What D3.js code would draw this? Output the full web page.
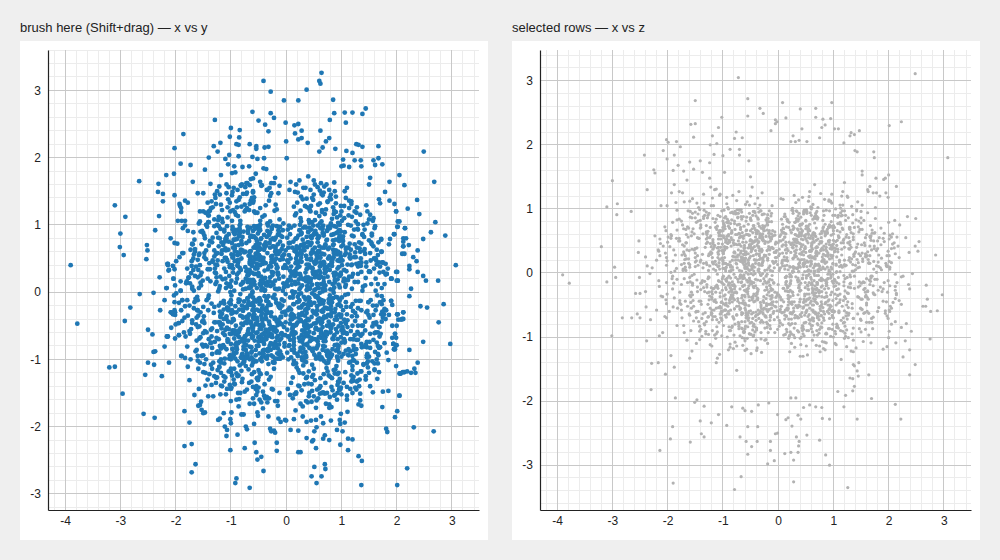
<!DOCTYPE html>
<html><head><meta charset="utf-8">
<script src="https://cdn.jsdelivr.net/npm/d3@7"></script>
<style>
html,body{margin:0;padding:0;background:#efefef;}
svg{display:block;font-family:"Liberation Sans",Arial,Helvetica,sans-serif;}
</style></head><body>
<svg id="chart" width="1000" height="560"></svg>
<script>
// ---- axis / tick configuration ----
const xTicks=[-4,-3,-2,-1,0,1,2,3];
const yTicks=[-3,-2,-1,0,1,2,3];
const zTicks=[-3,-2,-1,0,1,2,3];
const xDomain=[-4.31,3.49];
const yDomain=[-3.24,3.6];
const zDomain=[-3.7,3.48];
const titles=["brush here (Shift+drag) \u2014 x vs y","selected rows \u2014 x vs z"];

// ---- data rows [x, y, z] ----
const extremeRows=[
[-3.9,.4,-.03],[-3.78,-.47,-.16],[-3.2,-1.12,.41],[-3.1,-1.11,1.03],[-3.1,1.29,-.14],[-3.01,.67,-.98],[-3,.87,1.44],[-2.96,-1.51,.09],[-2.94,.55,-.07],[-2.92,-.43,.91],
[-2.91,1.12,1.08],[-2.82,-.23,-.7],[-2.66,1.65,.96],[-2.65,-.03,-.7],[-2.58,-1.81,-.32],[-2.55,-1.23,-.64],[-2.53,.49,.32],[-2.52,.7,.5],[-2.51,.62,-.07],[-2.5,-.56,-.32],
[-2.5,-1.05,-.7],[-2.42,-.63,1.84],[-2.4,-.01,.25],[-2.4,-.89,-.29],[-2.39,-1.08,-.53],[-2.38,-1.87,-1.06],[-2.37,-.88,1.3],[-2.37,.92,.11],[-2.32,1.49,-.01],[-2.31,1.61,-.73],
[-2.3,1.13,-1.82],[-2.29,.22,-1.41],[-2.28,-.27,.08],[-2.25,-1.25,1.61],[-2.23,1.46,.58],[-2.23,1.35,1.56],[-2.2,-.12,-.58],[-2.2,-.81,.2],
[2.2,1.24,.75],[2.22,.7,-2.28],[2.23,.39,2.36],[2.23,.34,-.06],[2.23,-.06,-.49],[2.23,-.86,-.85],[2.26,.05,-.05],[2.26,-1.2,-1.31],[2.3,.52,-1.06],[2.31,-2.01,.55],
[2.32,-1.14,-.79],[2.34,-1.2,.88],[2.36,.46,-.18],[2.37,1.37,.32],[2.38,.62,-.25],[2.38,.3,-1.2],[2.38,-1.05,-1.59],[2.41,1.16,-.91],[2.43,-.21,-.01],[2.48,.79,.42],
[2.48,.24,3.11],[2.48,-.74,-1.43],[2.49,2.09,.85],[2.53,.17,.34],[2.55,-.23,.49],[2.62,.89,-.52],[2.67,-2.07,-.52],[2.68,1.64,-.19],[2.7,1.04,-.41],[2.75,.17,-1.03],
[2.76,-.45,-.6],[2.85,-.18,.28],[2.88,.84,-.59],[2.97,-.77,-.34],[3.07,.4,1.8]
];
const leftEdgeRows=[
[-.41,3.14,.35],[-.28,2.98,-.62],[-.04,2.85,.18],[-.61,2.68,-.27],[-.28,2.66,.74],[-.22,2.59,-.05],[-.5,2.55,.52],[-.01,2.52,-.88],[-1.29,2.56,.13],[-.38,2.49,-.41],
[-1,2.44,.66],[-.84,2.41,-.19],[-.32,2.39,.97],[-1.86,2.35,.28],[-1.02,2.31,-.72],[-.85,2.3,.04],[0,2.24,.47],[-1.19,2.22,-.33],[-.9,2.2,.81],[-.86,2.19,-.58],
[-.66,2.2,.22],[-1.31,2.17,-.95],[-.54,2.17,.39],[-.54,2.13,-.14],[-.39,2.15,.61],[-.32,2.16,-.77],[-2.02,2.14,.12],[-1.24,2.09,.55],[-1.03,2.04,-.46],[-.86,2.02,.09],
[-.61,2.01,-1.02],[-1.4,2,.71],[-1.1,1.98,-.21],[-.52,1.98,.93],[-.4,1.99,-.36],[.01,1.99,.27],[-1.05,1.9,-.64],[-1.91,1.91,-.25],[-1.73,1.89,.44],[-1.47,1.82,-.11],
[-2.17,1.74,.36],[-2.03,1.76,-.42],[-1.69,1.64,.06],[-2.02,1.44,-.7],[-1.93,1.31,.58],[-1.92,1.28,-.09],[-1.9,1.25,.19],[-1.9,1.19,-.53],[-1.83,1.36,.83],[-1.78,1.33,-.3],
[-1.96,1.06,.41],[-1.89,1.06,-.16],[-1.83,1.06,.67],[-1.83,.99,-.82],[-1.87,.95,.03],[-1.78,.91,.5],[-2.09,.8,-.37],[-2.02,.73,.24],[-1.97,.72,-.6],[-1.7,.71,.15],
[-2.15,.42,-.21],[-2.13,.32,.46],[-2.16,.06,-.12],[-2.05,.39,.72],[-2.02,.34,-.48],[-2.04,.2,.31],[-1.6,1.47,-.66],[-1.5,1.47,.38],[-1.56,1.2,-.04],[-1.56,1.05,.86],
[-1.4,1.2,-.44],[-1.41,1.04,.17],[-1.42,1.33,-.91],[-1.29,1.45,.6],[-1.21,1.57,-.23],[-1.37,1.61,.29],[-1.04,1.56,-.55],[-.98,1.77,.76],[-.92,1.78,-.08],[-1.18,1.74,.48],
[-.94,1.87,-.69],[-.79,1.86,.33],[-.67,1.87,-.15],[-.74,1.56,.99],[-.66,1.59,-.39],[-.6,1.69,.07],[-.55,1.76,-.84],[-.41,1.84,.56],[-.36,1.83,-.26],
[.64,3.26,-.31],[.6,3.14,.42],[.62,3.1,-.7],[.37,3.01,.14],[.22,2.85,-.47],[.85,2.86,.63],[.87,2.66,-.12],[1.06,2.67,.25],[1.2,2.67,-.59],[1.44,2.73,.08],
[1.38,2.65,.71],[1.08,2.52,-.35],[.79,2.56,.49],[.62,2.4,-.92],[.15,2.48,.2],[.22,2.5,-.17],[.16,2.36,.84],[.22,2.27,-.63],[.28,2.4,.02],[.28,2.29,.53],
[.39,2.22,-.28],[.78,2.29,.37],[.72,2.24,-.81],[.66,2.15,.11],[.6,2.09,-.44],[.89,2.13,.68],[1.09,2.1,-.07],[1.2,2.07,.4],[1.27,2.2,-.66],[1.31,2.19,.17],
[1.38,2.16,-.24],[1.67,2.17,.55],[1.24,1.96,-.5],[1.35,1.96,.02],[1.36,1.87,-.86],[1.58,1.96,.3],[1.67,1.99,-.13],[1.74,1.9,.62],[1.61,1.89,-.38],[1.03,1.97,.9],
[1.04,1.88,-.2],[1,1.87,.45],[1.14,1.86,-.74],[2.05,1.74,.16],[2.14,1.59,-.34],[1.87,1.64,.23],[1.52,1.7,-.57],[1.5,1.6,.78],[1.79,1.49,-.1],[1.68,1.38,.51],
[1.7,1.32,-.77],[1.87,1.36,.05],[1.96,1.31,-.45],[1.99,1.2,.34],[2.15,.95,-.15],[2.02,1.05,.59],[2.02,.97,-.6],[1.96,.86,.12],[1.88,.79,-.29],[1.86,.71,.7],
[2.12,.8,-.4],[2.12,.75,.3],[2.12,.68,-.02],[2.1,.57,.47],[1.99,.3,-.71],[2.02,.17,.09],[1.9,.2,-.25],[1.75,.44,.63],[1.82,.27,-.54],[1.63,.47,.21],[1.68,.44,-.08],
[-2.14,-.66,.27],[-2.12,-1.05,-.36],[-1.84,-1.77,.54],[-1.75,-1.94,-.18],[-1.84,-2.29,.07],[-1.71,-2.26,.69],[-1.64,-2.56,-.52],[-1.71,-2.68,.33],[-1.01,-2.35,-.09],[-.9,-2.77,.58],
[-.92,-2.84,-.64],[-.66,-2.91,.2],[-.75,-2.32,-.31],[-.57,-2.24,.87],[-.54,-2.38,-.02],[-.52,-2.49,.44],[-.45,-2.45,-.83],[-.41,-2.66,.15],[-.17,-2.24,-.49],[-.17,-2.36,.62],
[-.88,-2.12,-.16],[-1.08,-2.14,.4],[-1.11,-2,-.73],[-1.07,-2.05,.11],[-.71,-2.04,.76],[-.73,-2,-.4],[-.58,-1.96,.29],[-.52,-1.79,-.95],[-.51,-1.84,.5],[-.32,-1.85,-.12],
[-.29,-2.03,.35],[-.27,-2.07,-.57],[-.22,-2.06,.83],[-.2,-2.09,-.26],[-.14,-1.88,.04],[-.1,-1.93,.66],[-.02,-1.9,-.35],[-1,-1.95,.18],[-1.01,-1.89,-.6],[-.81,-1.82,.93],
[-.77,-1.82,-.07],[-1.23,-1.9,.46],[-1.2,-1.88,-.29],[-1.13,-1.8,.71],[-.99,-1.79,-.48],[-1.5,-1.8,.1],[-1.53,-1.75,-.75],[-1.47,-1.79,.39],[-1.59,-1.69,-.14],[-1.56,-1.68,.64],
[-1.54,-1.63,-.43],[-1.66,-1.53,.22],[-1.58,-1.44,-.9],[-1.46,-1.39,.55],[-1.35,-1.38,-.23],[-1.41,-1.55,.82],[-1.32,-1.55,-.62],[-1.75,-1.31,.13],[-1.78,-1.11,-.47],[-1.89,-.95,.36],
[-1.83,-.98,-.1],[-1.73,-1,.75],[-1.82,-.66,-.55],[-1.94,-.64,.01],[-2,-.48,.48],[-2.01,-.69,-.33],[-1.94,-.46,.6],[-2.02,-.27,-.15],[-2.08,-.3,.42],[-2.05,-.33,-.68],
[-2.01,-.34,.19],[-1.88,-.12,-.39],[-1.99,-.02,.56],[-1.91,.02,-.05],[-1.7,-.42,.3],[-1.48,-.46,-.7],[-1.17,-.54,.14],[-1.14,-.79,-.42],[-1.05,-.72,.88],[-1.11,-.99,-.19],
[-.95,-.94,.52],[-.84,-1.09,-.85],
[2.19,-1.18,.24],[2.14,-1.19,-.32],[2.07,-1.21,.61],[1.99,-1.1,-.12],[2.05,-1.54,.38],[2.01,-1.77,-.58],[1.97,-1.86,.1],[1.81,-2.03,-.27],[1.83,-2.08,.55],[2.19,-2.62,-.43],
[2.01,-2.87,.18],[1.36,-2.87,-.71],[1.37,-2.51,.29],[1.31,-2.44,-.06],[1.12,-2.18,.64],[1.2,-2.19,-.37],[1.12,-2.35,.02],[.98,-2.27,-.88],[.7,-2.56,.41],[.71,-2.63,-.15],
[.51,-2.6,.73],[.46,-2.74,-.46],[.55,-2.84,.26],[.64,-2.74,-.61],[.22,-2.38,.09],[.26,-2.38,-.3],[.37,-2.17,.57],[.47,-2.22,-.78],[.49,-2.2,.16],[.54,-2.32,-.2],
[.67,-2.18,.85],[.78,-2.2,-.52],[.7,-2.13,.33],[1.02,-2.07,-.1],[.92,-2.05,.48],[.98,-1.96,-.66],[.81,-1.91,.07],[.67,-1.95,-.36],[.55,-2.01,.68],[.51,-2.07,-.04],
[.08,-2.05,.31],[.22,-2.06,-.92],[.14,-1.89,.44],[0,-1.91,-.18],[.3,-1.85,.79],[.37,-1.93,-.5],[.45,-1.91,.13],[.54,-1.9,-.25],[.63,-1.85,.6],[.99,-1.81,-.43],
[1.11,-1.78,.2],[1.06,-1.94,-.8],[.97,-1.9,.37],[1.31,-1.67,-.16],[1.36,-1.69,.52],[1.34,-1.61,-.55],[1.34,-1.51,.03],[1.29,-1.32,.69],[1.21,-1.32,-.28],[1.74,-1.71,.42],
[1.75,-1.48,-.34],[1.85,-1.47,.08],[1.57,-1.49,-.62],[1.52,-1.4,.31],[1.65,-1.29,-.11],[1.68,-1.19,.58],[1.6,-1.06,-.47],[1.66,-1.06,.15],[1.85,-1.01,-.22],[1.67,-.94,.74],
[1.68,-.83,-.05],[1.78,-.76,.35],[1.94,-.77,-.63],[1.96,-.85,.11],[1.98,-.79,-.3],[1.92,-.68,.49],[1.92,-.5,-.15],[1.97,-.62,.27],[2.03,-.41,-.52],[2.02,-.33,.06],
[2.1,-.4,.39],[2.12,-.3,-.21],[1.92,-.19,.62],[1.9,-.13,-.44],[1.81,-.27,.17],[1.72,-.33,-.69],[1.86,-.34,.44],[1.6,-.61,-.09],[1.46,-.74,.81],[1.46,-.82,-.38],
[1.37,-.82,.26],[1.5,-.96,-.74],[1.4,-1.07,.12],[1.48,-1.12,-.2],[1.18,-1.33,.47],[.94,-1.33,-.53],[.96,-1.44,.09],[.87,-1.54,-.31],[.79,-1.56,.65],[.78,-1.67,-.12],
[.82,-1.71,.36],[.93,-1.5,-.87],[.61,-1.51,.24],[.67,-1.49,-.41],[1.1,-1.54,.56],[1.1,-1.41,-.17],[1.32,-1.4,.4]
];
const rightEdgeRows=[
[-.72,.31,3.05],[-1.5,-.22,2.69],[-.55,.67,2.72],[-.55,-.48,2.45],[-1.02,.12,2.43],[-.33,-.85,2.57],[-.27,.44,2.49],[-1.58,.06,2.32],[-1.5,-.61,2.33],[-1.08,.83,2.27],
[-1.53,.29,2.12],[-1.19,-.37,2.14],[-1.11,.51,2.02],[-.76,-.14,2.2],[-.65,.96,2.11],[-.79,-.72,2.1],[-2.02,-.15,2.08],[-1.99,.46,2.04],[-1.84,-.38,2.05],[-1.77,.21,1.97],
[-2.08,-.53,1.91],[-2.01,.1,1.78],[-1.88,.58,1.84],[-2.16,-.66,.34],[-2.14,.4,.53],[-2.03,-.05,.66],[-2.12,.33,1.05],[-2.01,-.3,1.05],
[-1.71,.39,1.59],[-1.9,-.27,1.6],[-1.81,.13,1.68],[-1.6,-.52,1.73],[-1.53,.71,1.62],[-1.41,-.09,1.75],[-1.24,.47,1.72],[-1.37,-.76,1.57],[-1.65,.24,1.45],[-1.88,-.43,1.38],
[-1.93,.52,1.25],[-1.79,-.12,1.27],[-1.73,.63,1.25],[-1.85,-.6,1.1],[-1.7,.05,1.11],[-1.59,-.35,.96],[-1.5,.88,.86],[-1.79,-.81,.84],[-1.91,.16,.79],[-1.83,-.21,.98],
[-1.67,.56,.68],[-1.57,-.69,.58],[-1.79,.35,.54],[-1.94,-.16,.54],[-1.67,.02,.47],[-1.23,-.45,2],[-1.16,.62,1.85],[-1,-.18,1.83],[-.87,.93,1.93],[-.97,-.57,1.57],
[-.7,.15,1.93],[-.7,-.95,1.84],[-.53,.36,1.75],
[-2.15,-.66,-.98],[-2.09,-.3,-.93],[-2.17,.06,-1.4],[-2.04,.2,-1.58],[-2.14,.42,-2.77],[-1.91,.02,-2.4],[-1.95,-.46,-2.59],[-1.59,.33,-2.64],[-1.9,-.95,-3.28],[-1.86,.58,-1.95],
[-1.88,-.12,-1.47],[-1.94,-.64,-1.29],[-1.51,.17,-2.02],[-1.47,-.58,-1.98],[-1.34,.74,-2.08],[-1.41,-.27,-2.31],[-1.39,.43,-2.51],[-1.34,-.83,-2.56],[-1.21,.05,-2.34],[-1.08,-.4,-2.21],
[-.93,.61,-2.38],[-.84,-.12,-2.09],[-.67,.28,-3.18],[-.79,-.7,-3.38],[-.69,.92,-2.56],[-.58,-.33,-2.63],[-.55,.49,-2.83],[-.48,-.91,-2.71],[-.38,.14,-2.63],[-.37,-.56,-2.4],
[-.55,.8,-2.4],[-.14,-.2,-2.63],[-.14,.57,-2.77],[-.19,-.74,-2.98],[-.05,.36,-2.51],[-.01,-.45,-2.21],[-.64,.07,-2.11],[-.6,-1.05,-2.15],[-.48,.66,-2.16],[-.36,-.13,-2.06],
[-.17,.98,-2.03],
[.28,-.34,-3.26],[1.26,.52,-3.35],[.93,-.08,-3],[.86,.71,-2.84],[.12,-.62,-2.82],[.23,.19,-2.8],[.36,-.97,-2.8],[.28,.45,-2.92],[.75,-.25,-2.61],[.52,.88,-2.53],
[.33,-.5,-2.56],[.37,.03,-2.7],[.38,-.79,-2.63],[-.01,.62,-2.5],[-.07,-.3,-2.93],[.25,.27,-2.39],[.14,-1.02,-2.29],[.18,.8,-2.26],[.41,-.15,-2.28],[.36,.54,-2.22],
[.8,-.6,-2.27],[.93,.35,-2.28],[.79,-.98,-2.1],[.68,.11,-2.09],[.57,-.41,-2.06],[.46,.93,-2.1],[.32,-.07,-1.95],[.23,.66,-1.95],[1.43,-.44,-2.28],[1.19,.23,-2.09],
[1.22,-.86,-1.91],[1.08,.58,-1.85],[1.35,-.13,-1.84],[1.38,.85,-1.77],[1.35,-.65,-1.65],[1.3,.38,-1.64],[1.45,-.3,-1.61],[1.43,.1,-1.53],[1.69,-.52,-1.96],[1.64,.63,-1.59],
[1.46,-.97,-1.4],[1.36,.44,-1.43],[2.12,-.4,-2.05],[2.13,-1.19,-1.09],[2.05,-1.21,-.8],[2.01,-.33,-.91],[1.97,-.85,-1.15],[1.9,-.13,-1.19],[2,-.79,-1.01],[2.12,-.3,-.76],
[2.08,-.41,-.46],[2.05,-1.54,-.55],[1.94,-.77,-.59],[1.97,-.62,-.67],[2.12,.68,-.27],[2.02,.17,-.2],
[2.01,.3,2.3],[.08,-.41,2.66],[.4,.22,2.56],[.68,-.73,2.57],[.97,.46,2.66],[.68,.05,2.43],[.81,-.36,2.4],[.95,.9,2.41],[.14,-.18,2.42],[-.05,.55,2.39],
[-.02,-.64,2.36],[-.05,.13,2.33],[-.13,-.92,2.22],[.43,.37,2.25],[.79,-.1,2.27],[.85,.63,2.31],[1.02,-.55,2.25],[1.09,.18,2.25],[1.47,-.28,2.22],[1.32,.74,2.19],
[1.3,-.71,2.14],[1.38,.02,2.16],[1.19,.41,2.03],[.75,-.87,2.11],[.27,.7,2.14],[.23,-.23,2.05],[.31,.96,2.05],[.38,-.49,2.07],[.52,.25,2.05],[1.39,-.5,1.91],
[1.43,.57,1.89],[1.73,-.06,1.89],[1.74,.44,1.8],[1.52,-.83,1.59],[1.52,.3,1.53],[1.77,-.33,1.48],[1.91,.2,1.46],[1.94,-.77,1.48],[2,-.5,1.53],[2.14,.57,1.35],
[1.95,.86,1.25],[1.99,-.68,1.18],[1.66,.12,1.35],[1.63,-.45,1.27],[1.72,.79,1.25],[1.78,-.27,1.25],[1.84,.35,1.2],[2.11,-1.19,.82],[2,.17,.79],[2.05,1.05,.56],
[2.15,.95,.56],[1.9,.2,.54],[2.01,-.33,.53],[2.07,-1.21,.45],[2.17,.8,.42],[2.01,.97,.27],[1.99,1.2,.1],[1.95,-.85,.15],[1.8,-.4,.38],[1.82,.27,.28],
[1.66,-.6,.27],[1.59,.5,.25],[1.49,-.15,.27],[1.82,-.9,.1],[1.73,.6,.06],[1.64,-.2,.15]
];
const coreInner=[
[.12,-.34,.56],[-.45,.08,-.21],[.67,.41,.03],[-.09,-.62,.38],[.31,.19,-.66],[-.58,-.27,.14],[.05,.55,-.42],[-.7,.33,.61],[.44,-.15,-.09],[-.23,.68,.27],
[.18,-.49,-.55],[-.36,-.7,.47],[.59,.06,.19],[-.14,.26,-.69],[.69,-.38,.34],[-.51,.61,-.12],[.27,-.02,.68],[-.02,-.29,-.31],[.38,.67,.11],[-.65,-.05,-.47],
[.09,.38,.7],[-.31,-.44,-.04],[.52,.22,-.58],[-.19,-.11,.23],[.64,-.6,.49],[-.47,.47,.06],[.22,.13,-.27],[-.6,-.58,.39],[.35,-.26,-.7],[-.08,.64,.15],
[.48,.35,-.36],[-.39,.02,.62],[.14,-.69,-.18],[-.68,.18,-.03],[.61,.52,.44],[-.27,-.36,-.64],[.03,.09,.3],[-.55,.7,-.25],[.4,-.53,.09],[-.12,-.17,.53],
[.7,.28,-.15],[-.43,-.63,.21],[.25,.46,-.49],[-.16,.04,.66],[.56,-.21,-.02],[-.62,.39,.35],[.11,-.4,-.61],[-.34,.58,.01],[.47,.11,.58],[-.04,-.52,-.38],
[.33,.62,.26],[-.69,-.19,-.56],[.16,.31,.12],[-.25,-.67,.66],[.66,.01,-.44],[-.5,.24,-.17],[.07,-.08,.42],[-.41,.51,-.68],[.54,-.46,.17],[-.2,.17,.05],
[.29,-.57,.7],[-.57,-.12,-.29],[.62,.44,.37],[-.06,.69,-.52],[.37,-.31,.02],[-.64,.12,.48],[.2,.27,-.2],[-.3,-.48,.33],[.5,.59,-.62],[-.11,-.24,-.11],
[.43,.07,.64],[-.48,-.55,.1],[.01,.36,-.34],[-.67,-.33,.25],[.58,-.1,-.47],[-.22,.45,.57],[.13,-.64,-.07],[-.38,.21,.43],[.69,.66,-.26],[-.01,-.03,-.69],
[.32,-.18,.31],[-.54,.56,.16],[.19,-.47,-.4],[-.28,.09,.69],[.6,.32,-.1],[-.44,-.7,-.33],[.08,.5,.2],[-.59,-.21,-.58],[.45,.2,.52],[-.17,-.58,.08],
[.24,.04,-.63],[-.63,.47,.29],[.41,-.66,-.16],[-.05,.23,.45],[.65,-.29,-.35],[-.35,-.09,.06],[.15,.61,-.05],[-.52,-.43,.59],[.36,.16,-.53],[-.1,-.37,.18],
[.55,.49,.04],[-.26,.3,-.46],[.02,-.56,.5],[-.61,-.01,.22],[.42,.37,-.68],[-.15,-.65,.36],[.68,-.13,.13],[-.46,.64,-.39],[.23,-.33,-.12],[-.33,.15,.61],
[.1,.28,-.24],[-.7,-.39,.45],[.51,-.04,-.6],[-.07,.53,.32],[.34,-.5,.07],[-.53,.06,-.37],[.63,.23,.55],[-.18,-.16,-.14],[.46,-.68,.28],[-.42,.42,-.01],
[.06,-.23,.67],[-.58,.27,-.5],[.28,.57,.09],[-.24,-.52,-.27],[.71,.1,.4],[-.37,-.27,-.65],[.17,.43,.19],[-.66,.59,.03],[.39,-.41,.46],[-.13,.05,-.41],
[.53,-.55,-.19],[-.49,-.14,.38],[.04,.66,-.57],[-.3,-.62,.12],[.62,.39,-.31],[-.56,.35,.6],[.21,-.07,-.02],[-.03,.12,.35],[.48,-.28,-.66],[-.64,-.46,.16],
[.3,.2,.5],[-.21,-.4,-.22],[.57,.58,.24],[-.45,.03,-.62],[.14,-.35,.43],[-.69,.25,-.08],[.44,.48,.66],[-.09,-.69,-.45],[.26,.07,.01],[-.39,.66,.3],
[.67,-.17,.14],[-.52,-.6,-.43],[.09,.17,.63],[-.27,.38,-.17],[.5,-.61,.32],[-.6,-.08,.09],[.35,.29,-.54],[-.12,-.45,.56],[.59,.53,-.07],[-.43,-.2,.41],
[.18,.6,-.29],[-.34,-.3,.21],[.64,-.44,-.5],[-.08,-.11,-.15],[.41,.14,.69],[-.65,.49,-.35],[.12,-.51,.11],[-.29,.22,.52],[.53,.04,-.41],[-.5,-.67,.26],
[.04,.44,.08],[-.57,.11,.67],[.37,-.25,-.23],[-.19,.63,-.6],[.7,.34,.27],[-.41,-.5,-.1],[.24,-.12,.44],[-.62,.29,-.48],[.46,-.37,.15],[-.06,.02,-.3],
[.31,.68,.53],[-.36,-.24,.04],[.57,-.07,.34],[-.23,-.57,-.67],[.15,.25,-.13],[-.54,.67,.2],[.66,-.52,-.25],[-.16,.37,.62],[.39,.18,-.45],[-.68,-.15,.31],
[.21,-.45,-.06],[-.44,.13,.48],[.6,.61,-.18],[-.01,-.34,.13],[.34,-.66,.58],[-.59,-.35,-.28],[.11,.01,.25],[-.25,.54,-.55],[.49,.27,.38],[-.32,-.06,-.03],
[.68,.15,-.64],[-.47,.4,.1],[.03,-.27,-.37],[-.63,-.63,.54],[.27,.51,.23],[-.14,-.41,-.49],[.55,-.33,.05],[-.38,.03,.66],[.16,-.6,-.2],[-.55,.57,-.14],
[.42,-.09,.29],[-.11,.48,-.38],[.63,-.56,.61],[-.28,-.19,.17],[.07,.32,-.62],[-.67,.07,.42],[.36,-.43,-.08],[-.2,.6,.35],[.52,.42,-.33],[-.05,-.64,.24],
[.26,.24,.47],[-.61,-.52,-.19],[.45,-.19,-.03],[-.33,.34,.55],[.13,-.03,-.58],[-.49,-.28,.33],[.69,.56,.12],[-.1,-.47,-.26],[.38,.09,.6],[-.42,.19,-.44],
[.17,-.61,.19],[-.66,.6,-.06],[.54,.26,-.5],[-.24,-.08,.27],[.02,.47,.04],[-.53,-.38,-.6],[.61,-.01,.46],[-.15,.29,-.1],[.33,-.5,.36],[-.37,-.66,-.39],
[.47,.36,.21],[-.04,-.13,-.53],[.23,.65,.45],[-.58,.16,.01],[.65,-.41,-.12],[-.3,-.55,.59],[.1,.11,-.45],[-.46,.52,.13],[.4,-.2,-.65],[-.18,.41,.37]
];
const coreMid=[
[.92,-.41,1.12],[-1.05,.63,-.37],[.18,1.17,.8],[-.76,-1.02,.25],[1.21,.27,-.94],[-.33,-.88,1.06],[.64,.95,-.71],[-1.18,-.16,.52],[.49,-1.23,-.15],[-.87,.44,-1.11],
[1.03,.76,.34],[-.58,-1.19,-.66],[.27,-.83,.97],[-1.26,.22,.04],[.85,-.09,-1.2],[-.12,1.08,.61],[.71,-.67,-.48],[-.95,.89,.88],[1.14,-1.05,.12],[-.42,.05,-.92],
[.38,1.26,-.23],[-1.1,-.56,.73],[.97,.48,-.59],[-.67,1.22,.19],[1.28,-.36,.47],[-.22,-1.14,-1.04],[.56,.12,1.19],[-.84,-.74,-.26],[.81,1.02,.66],[-1.23,.81,-.55],
[.13,-1.07,.36],[-.49,.91,-1.26],[1.09,-.61,.9],[-.98,-.31,.07],[.44,.83,-.82],[-1.15,1.04,.43],[.75,-1.18,-.3],[-.29,.39,1.25],[1.25,.59,-.07],[-.7,-.93,.99],
[.87,.07,-1.09],[-.06,-.97,.59],[.6,1.13,.14],[-1.3,-.45,-.76],[.32,-.78,1.1],[-.8,.71,-.18],[1.17,-.22,.68],[-.53,-1.28,-.51],[.99,.9,.27],[-1.02,.37,-.98],
[.22,-1.16,-.62],[-.91,1.15,1.02],[1.05,.33,-.4],[-.38,-.6,-1.17],[.78,-.94,.55],[-1.2,.09,.31],[.15,.99,-.88],[-.73,-1.1,.86],[1.27,-.71,-.22],[-.45,.8,.1],
[.9,1.19,-.5],[-1.08,-.85,.63],[.53,-.3,-1.28],[-.17,1.23,.41],[1.13,.66,1.01],[-.96,-.4,-.34],[.36,-1.04,.22],[-1.27,.57,-.69],[.68,.21,.93],[-.61,-.99,-.08],
[1.2,-.95,-.77],[-.26,.96,.7],[.82,-.52,.29],[-1.12,-1.06,-.46],[.05,.73,1.16],[-.89,.26,-.84],[1.01,1.06,.39],[-.5,-.8,1.2],[.73,-1.13,-.63],[-1.14,.7,.18],
[.4,.89,-1.02],[-.79,-.26,.81],[1.3,.15,-.17],[-.35,-1.21,.49],[.95,-.8,-.99],[-1.22,-.7,.58],[.26,1.1,.03],[-.64,.53,-1.13],[1.08,-.47,.77],[-1.01,1.2,-.27],
[.59,-.98,1.03],[-.15,.85,-.74],[.86,.58,.6],[-1.16,-.32,-.58],[.47,-1.26,.16],[-.83,1.01,.95],[1.18,.4,-.7],[-.41,-.91,-.2],[.77,-.16,1.24],[-.99,.17,.35],
[1.12,1,-.33],[-.68,-1.15,.71],[.3,.78,-1.16],[-1.24,-.88,.11],[.93,-.7,.44],[-.52,1.18,-.95],[.66,-1,.87],[-1.07,.48,-.13],[1.23,.93,.56],[-.24,-.77,-.86],
[.81,-.26,-.54],[-.93,.78,1.08],[.2,-.92,-.29],[-1.29,.35,.62],[1.04,.16,1],[-.6,-.53,-1.21],[.43,1.21,.32],[-.86,-1.24,-.4],[1.16,-.88,.09],[-.14,.92,-.66],
[.71,.69,.84],[-1.13,-.13,-.21],[.91,-1.1,-.87],[-.47,1.06,.5],[1.26,-.13,-.45],[-.75,-.66,1.13],[.1,-.86,.69],[-1.19,.94,-.9],[.62,.29,-1.05],[-.32,-1.07,.23],
[1,-.57,.51],[-.88,.59,-.47],[.34,1.28,.96],[-1.03,-.99,-.14],[.76,.5,-1.23],[-.2,-.81,.76],[1.19,1.12,-.04],[-.56,.27,1.11],[.88,-1.21,-.36],[-1.25,-.58,.3],
[.25,.92,-.79],[-.72,-.37,.93],[1.1,-.33,-.61],[-.39,1.14,-.32],[.57,-.73,1.27],[-1.17,.74,.06],[.96,.81,-.52],[-.81,-1.17,.47],[.51,.03,-1.14],[-1.06,-.23,.66],
[.83,1.09,.21],[-.27,-.94,-.77],[1.22,-.8,.82],[-.63,.84,-.05],[.39,-.4,.74],[-1.21,-1.11,-.62],[.97,.24,1.09],[-.44,-.73,-.97],[.7,1.16,-.24],[-1.09,.06,.9],
[.19,-1.12,-.45],[-.97,.97,.37],[1.07,-.04,-.83],[-.54,-1.03,.15],[.85,.77,.58],[-1.28,.41,-.31],[.6,-.92,-.73],[-.11,.75,1.05],[1.15,.52,.28],[-.78,-.49,-1.08],
[.46,-.71,.92],[-1.04,.86,-.64],[.98,1.14,-.13],[-.37,-.33,1.17],[1.29,-.59,.37],[-.71,1.25,-.8],[.28,-.97,.07],[-1.14,-.8,.79],[.74,.37,-.94],[-.48,.12,.5],
[1.06,-.75,-.26],[-.85,-.57,.42],[.55,.86,1.12],[-1.25,1,-.42],[.89,-1.15,.63],[-.16,-.99,-.57],[1.24,.71,-.89],[-.66,.33,.84],[.35,-.6,-.11],[-1,-1.19,.2],
[.78,.53,-.67],[-.43,1.12,.96],[1.11,-.42,.1],[-.92,-.21,-1],[.42,1.03,.41],[-1.11,-.64,.68],[.67,-.29,-.2],[-.57,.67,-1.19],[.94,-1.02,.72],[-1.27,.28,-.09],
[.52,1.07,.19],[-.82,-.97,-.35],[1.19,.05,.53],[-.31,.85,-1.03],[.84,-.85,1.15],[-1.09,.51,.24],[.24,-1.2,-.72],[-.7,-.1,.98],[1.02,.79,-.6],[-.5,-1.16,.44],
[.63,-.12,1.07],[-1.16,1.09,-.24],[.92,-.96,-.42],[-.24,.99,.73],[1.27,.42,-1.01],[-.9,-.83,.13],[.48,.63,-.33],[-1.05,-.27,1.23],[.73,-1.06,.02],[-.4,.7,-.61],
[1.14,.23,.89],[-.62,-.68,-.91],[.31,-1.09,.6],[-1.22,.68,.29],[.87,.98,-.16],[-.46,-1.22,.38],[1.03,-.61,-1.1],[-.98,.4,.55],[.58,.8,.94],[-1.19,-.49,-.73],
[.16,1.14,-.55],[-.74,-.45,.75],[1.21,-1.01,-.09],[-.34,1.02,.27],[.79,-.48,-.85],[-1.02,-.94,.97],[.39,.74,.63],[-.87,1.13,-.23],[1.08,.11,-.47],[-.59,-.34,1.07],
[.9,-.87,.31],[-1.26,.15,-.96],[.65,1.22,.48],[-.21,-1.05,-.16],[1.17,.63,1.06],[-.79,.62,-.56],[.5,-1.14,.81],[-1.13,-.4,.04],[.82,.45,-1.18],[-.55,.95,.6],
[1.25,-.31,-.31],[-.4,-.86,.89],[.74,.91,-.73],[-1.08,.8,.46],[.29,-.74,1.21],[-.94,-1.14,-.5],[1.05,1.1,.14],[-.65,.18,-1.01],[.61,-.44,.39],[-1.23,1.07,.71],
[.45,.82,-.95],[-.99,-.62,.33],[1.16,-.7,.7],[-.52,.49,-.12],[.99,.26,-.58],[-1.18,-1,.16],[.21,-.95,-.81],[-.77,.9,.92],[1.3,-.24,-.03],[-.28,-1.26,.55],
[.69,-.64,-1.13],[-1.12,.35,.84],[.86,1.16,.27],[-.46,-.5,-.89],[1.07,-1.19,.51],[-.85,.83,-.34],[.37,.41,1.14],[-1.29,-.74,-.18],[.96,-.18,.8],[-.58,1.2,-.7],
[1.22,.83,-.4],[-.36,-.98,1.01],[.54,-.53,-.04],[-1.07,.98,.58],[.8,.04,-1.07],[-.72,-.79,.36],[1.13,-.94,.94],[-.19,.81,-.8],[.64,1.05,.23],[-1.2,-.29,-.63],
[.41,-1.18,.45],[-.93,.46,1.18],[1.09,.66,-.86],[-.62,-1.09,-.03],[.76,-.34,.61],[-1.15,.19,-.44],[.57,.99,.76],[-.3,-.62,-1.24],[1.2,-.5,.2],[-.83,1.06,-.14]
];
const coreFill=[
[.84,.12,-.38],[-.77,-.81,.2],[.03,.93,.57],[-.96,.29,-.66],[.72,-.88,.05],[-.18,-.79,-.93],[1.02,.47,.71],[-.52,.98,-.08],[.29,-1.01,.44],[-1.07,-.53,.16],
[.57,.8,-.79],[-.35,-.13,.95],[.91,-.36,-.24],[-.81,.72,.51],[.19,.35,-1.02],[-.63,-.9,-.43],[1.08,-.15,.33],[-.07,.82,.08],[.76,.64,-.56],[-.99,-.05,.78],
[.38,-.77,-.12],[-.88,.55,-.9],[.66,.05,.62],[-.23,-1.05,.27],[.95,.91,-.34],[-.46,.17,-.71],[.12,-.58,.92],[-1.1,.79,-.02],[.8,-.52,.39],[-.6,-.38,-.5],
[.47,1.04,.13],[-.74,-.22,.6],[1.06,-.73,-.85],[-.31,.86,.36],[.23,-.14,-.47],[-.92,-.99,.84],[.61,.38,-.17],[-.14,-.92,.54],[.87,.24,.98],[-.55,.66,-.29],
[.15,-.9,-.68],[-1.02,.4,.23],[.74,.78,.45],[-.4,-.61,-1.05],[.99,-.46,.14],[-.82,.11,-.39],[.33,.72,.81],[-.66,-1,-.14],[.52,-.3,-.9],[-.26,.49,.66],
[1.09,.31,-.25],[-.5,-.74,.42],[.08,.23,-.81],[-.94,.93,.09],[.69,-1.03,.7],[-.13,.6,-.48],[.9,-.07,.26],[-.71,-.46,-.87],[.42,.96,.53],[-1.05,-.24,-.31],
[.26,-.41,1.01],[-.58,.83,-.62],[.79,.51,.18],[-.85,-.67,.55],[.55,-.84,-.41],[-.2,.05,.86],[1,.68,-.7],[-.44,-.97,.03],[.17,.79,-.23],[-.97,.52,.73],
[.63,-.62,-.58],[-.3,-.31,.37],[.97,1,.06],[-.69,.31,-.98],[.36,-.95,.48],[-.11,.97,-.35],[.81,-.21,.82],[-.89,-.85,-.16],[.45,.57,-.84],[-.61,.01,.29],
[.07,-.71,.64],[-1.08,-.36,-.54],[.68,.87,.31],[-.37,.74,-.11],[.92,-.6,-.63],[-.79,-1.06,.77],[.21,.42,.1],[-.48,-.18,-.77],[1.04,-.92,.49],[-.16,.36,.97],
[.5,.27,-.44],[-.93,.65,.4],[.14,-.85,-.07],[-.68,-.55,.68],[.86,.86,-.95],[-.28,-.86,.21],[.6,-.1,.58],[-.83,.89,-.45],[.31,.63,.79],[-1,-.77,-.06],
[.77,-.44,.35],[-.08,-.48,-.6],[.41,1.07,-.27],[-.73,.2,.87],[1.03,-.27,-.12],[-.42,-.7,.5],[.16,.15,-.92],[-.87,.46,.02],[.64,-.97,.63],[-.24,.8,-.67],
[.98,.58,.44],[-.57,-1.02,-.26],[.27,-.23,.73],[-1.04,.09,-.7],[.7,.36,-.04],[-.19,-.59,.91],[.88,-.79,-.37],[-.64,.61,.24],[.05,-.66,-.52],[-.9,-.3,.6],
[.44,.7,-.08],[-.39,.32,-.89],[1.07,.08,.66],[-.8,-.93,.32],[.58,-.56,-.74],[-.05,1.02,.17],[.83,.44,.9],[-.53,-.26,-.2],[.35,-.89,.07],[-.98,.73,-.36],
[.2,.55,.48],[-.71,-.63,-.83],[.93,-.98,.22],[-.33,.1,.58],[.67,.99,-.61],[-.86,-.15,.11],[.1,-.32,-.97],[-.47,.92,.69],[.73,-.37,-.29],[-1.01,-.94,.45],
[.53,-.07,.03],[-.22,-.83,-.4],[.85,.7,.76],[-.6,.44,-.55],[.39,-.65,.3],[-.95,-.42,-.23],[.02,.81,-.74],[-.75,-.79,.93],[1.05,.2,-.5],[-.29,.66,.15],
[.62,-1,-.19],[-.84,.36,.52],[.24,.92,-.06],[-.45,-.35,-.99],[.96,-.33,.59],[-.67,.76,.34],[.13,-.49,-.28],[-1.06,-.7,.21],[.78,.15,-.66],[-.12,-.99,.8],
[.48,.84,.38],[-.94,.02,-.12],[.7,-.72,.96],[-.36,-.57,-.58],[1.01,.4,-.21],[-.56,.97,.07],[.29,-.2,.52],[-.78,-.28,-.8],[.59,.6,.17],[-.03,-.76,-.45],
[.9,-.55,-.02],[-.49,.55,.82],[.18,-1.06,-.35],[-.91,-.5,.47],[.75,.93,-.88],[-.25,.25,.28],[.55,-.83,.6],[-1.09,.62,-.24],[.37,.34,-.7],[-.62,-.88,.13],
[.11,.66,.88],[-.7,-.09,-.47],[.97,-.12,.4],[-.17,-.68,-.14],[.46,.8,-.53],[-.85,.86,.62],[.65,-.45,-.97],[-.34,-.95,.35],[.89,.29,.09],[-.54,.38,-.63],
[.3,-.99,.25],[-1.03,.24,.58],[.8,.99,-.1],[-.44,-.39,.74],[.04,.18,-.38],[-.76,-1.04,-.3],[1.1,-.62,.55],[-.15,.71,-.82],[.51,-.16,.99],[-.89,.47,-.05],
[.68,.45,-.31],[-.27,-.53,.19],[.93,-.86,-.71],[-.61,.82,.43],[.22,-.38,-.16],[-1,-.12,.81],[.57,.74,.66],[-.4,-.77,-.74],[.86,-.01,-.46],[-.82,.63,.26],
[.35,-.54,.69],[-.13,.89,-.27],[.99,.53,.15],[-.72,-.98,.5],[.43,.05,-.86],[-.5,.28,.05],[.74,-.93,.31],[-.95,.78,-.58],[.09,-.26,.44],[-.31,-.64,-.93],
[.82,.85,-.6],[-.65,-.19,.63],[.27,.61,.22],[-.9,-.8,-.19],[.63,-.68,.84],[-.21,.47,-.51],[1.05,-.41,.01],[-.47,-1,.39],[.4,.9,-.41],[-.78,.15,.96],
[.56,-.27,-.15],[-.99,.56,.3],[.14,-.79,.61],[-.55,-.47,-.66],[.88,.18,-.95],[-.33,.99,.55],[.72,-.59,.12],[-.86,-.6,-.38],[.19,.46,.71],[-.64,-.06,-.09],
[.96,.76,.27],[-.42,-.92,-.84],[.61,-.18,.47],[-.17,.35,-.3],[.32,-1.02,-.06],[-.93,.86,.79],[.79,.33,-.78],[-.58,-.33,.33],[.07,.73,-.62],[-.75,-.71,.14],
[.49,-.84,.56],[-.07,-.2,-.73],[1.08,.64,.37],[-.81,.5,-.2],[.66,-.4,.88],[-.35,-.86,.06],[.25,1,-.45],[-1.05,-.44,.64],[.84,-.69,-.25],[-.52,.7,.4],
[.17,.12,.81],[-.69,-.58,-.57],[.92,.26,.02],[-.28,.78,.61],[.54,-.96,-.68],[-.97,-.95,.24],[.38,.49,-.19],[-.46,-.13,.9],[.76,.97,.49],[-.14,-.45,-.87],
[.64,-.12,-.4],[-.88,.39,.7],[.02,-.9,.37],[-.6,.91,-.76],[.95,-.51,.28],[-.38,-.25,-.33],[.52,.66,.96],[-.74,-.66,.08],[.28,-.64,-.55],[-1.08,.13,.53],
[.83,.39,.19],[-.24,-.96,.46],[.46,.59,-.88],[-.8,-.36,-.02],[1,-.96,.74],[-.53,.42,.12],[.12,-.08,-.66],[-.92,.69,.47],[.7,-.81,-.37],[-.18,.57,.85],
[.36,.96,-.14],[-.66,-.81,.57],[.89,-.25,-.6],[-.3,.16,.36],[.59,-.67,.03],[-1.02,-.62,-.45],[.22,.84,.67],[-.49,-.49,-.96],[.97,.07,.4],[-.84,.94,-.29],
[.41,-.42,.87],[-.11,.61,-.04],[.76,-1.05,-.52],[-.73,.05,.28],[.05,.99,.5],[-.57,-.72,-.67],[.9,.62,-.09],[-.36,-.4,.65],[.6,.21,-.82],[-.95,-.3,.07],
[.15,-.61,.31],[-.81,.76,-.4],[.66,.88,.59],[-.44,-1.03,-.23],[.93,-.19,.97],[-.02,.4,-.59],[.48,-.88,.15],[-.7,.25,.76],[1.03,.83,-.33],[-.27,-.66,.52],
[.71,.03,-.7],[-.97,-.85,.36],[.31,.71,.08],[-.59,.66,-.83],[.85,-.7,.64],[-.39,-.06,.2],[.07,-.47,-.42],[-.86,.29,.94],[.55,.44,-.26],[-.15,-.84,.11],
[.99,-.37,-.13],[-.51,.87,.44],[.2,-.15,-.99],[-.77,-.96,.6],[.62,.95,.25],[-.32,-.58,-.46],[.81,-.54,.7],[-1.06,.45,.06],[.43,-.73,-.62],[-.62,.11,.39],
[.27,.86,-.35],[-.85,-.26,-.27],[.72,.31,.86],[-.09,-.93,.58],[.5,-.31,-.77],[-.68,.54,.18],[.94,1.03,-.5],[-.45,-.64,.96],[.16,.24,.24],[-.9,-.75,-.6],
[.58,-.78,.11],[-.36,.69,.77],[1.12,-.03,-.42],[-.7,-.41,.04],[.24,.38,.63],[-.98,1.06,-.18],[.45,-.5,-.55],[-.13,-.22,.89],[.86,.52,.37],[-.55,-.94,-.71],
[.13,.75,-.96],[-.88,-.64,.49],[.67,-.26,.22],[-.26,.94,-.09],[1,-.75,.61],[-.6,.18,-.37],[.38,.04,.93],[-1.12,-.17,.13],[.79,-.9,-.29],[-.04,.56,.48],
[.53,.91,.71],[-.75,-.73,-.52],[.95,.11,-.08],[-.41,.46,.67],[.09,-.97,-.24],[-.83,-.35,.2],[.71,.71,-.67],[-.2,-.53,-.02],[.34,-.35,.52],[-.65,.82,-.87],
[.87,-.65,.45],[-.5,-.1,.84],[.18,.5,-.5],[-.95,-.9,-.1],[.6,.25,.34],[-.29,1.05,.91],[1.07,-.45,-.83],[-.76,.59,.15],[.42,-.83,.75],[-.09,-.37,-.63],
[.65,.66,-.01],[-1.04,-.55,.4],[.29,-.31,-.86],[-.53,-.8,.59],[.91,.88,.5],[-.38,.13,-.24],[.03,-.66,.07],[-.84,.99,.63],[.77,-.11,-.59],[-.23,.29,.27],
[.47,-1.08,-.41],[-.66,.42,-.65],[1.11,.41,.17],[-.17,-.44,.8],[.56,.12,-.33],[-.91,.14,.46],[.25,-.73,.98],[-.48,.72,-.14],[.82,-.31,-.7],[-.79,-.92,.25],
[.12,.3,.56],[-.61,-.27,-.92],[.94,-.84,.01],[-.35,.82,.41],[.69,.43,-.46],[-1,-1,.71],[.39,-.19,.16],[-.12,-.72,-.55],[.79,.95,.62],[-.57,.52,-.11],
[.99,-.21,.9],[-.43,-.47,.09],[.19,.68,-.72],[-.73,-.86,-.44],[.63,-.47,.53],[-.31,.38,.7],[.88,.14,-.19],[-.96,.35,-.5],[.3,-.9,.34],[-.67,.06,.99],
[.55,.55,-.9],[-.03,-.81,.24],[.74,-.63,-.36],[-.86,.7,.12],[.37,.82,.84],[-.54,-.61,-.24],[1.06,.89,.43],[-.21,-.04,-.57],[.15,-.5,.72],[-.81,-.47,-.7],
[.7,.09,.29],[-.47,1,-.42],[.25,-.88,-.64],[-1.07,-.23,.35],[.92,.56,.05],[-.63,-.82,.88],[.47,-.02,-.98],[-.27,.53,.5],[.83,-.93,.18],[-.89,.2,-.3],
[.08,-.35,.11],[-.78,-.38,.68],[1.04,-.58,.38],[-.4,.63,-.66],[.61,1.02,-.15],[-.16,-.91,.57],[.36,.22,.81],[-.94,-.69,-.47],[.73,-.24,-.04],[-.52,.35,.23],
[.93,.47,-.56],[-.34,-.66,.3],[.52,-.7,.93],[-.7,.97,.55],[.16,0,-.28],[-.99,-.45,-.82],[.68,.84,.39],[-.24,-1.04,-.13],[.41,.41,.6],[-.6,-.2,-.48],
[.81,-.96,.21],[-.45,.23,.74],[.22,.57,-.37],[-.87,-.76,.17],[.56,-.06,-.65],[-.1,.84,.03],[1,-.34,.66],[-.68,-.35,-.55],[.33,-.6,.42],[-.79,.82,-.25],
[.46,.73,.95],[-1.01,0,-.16],[.85,-.48,-.48],[-.33,-.2,.61],[.04,-1,-.78],[-.59,.47,.32],[.75,.23,.07],[-.9,-.9,.73],[.28,.88,-.6],[-.19,-.57,.2],
[.6,-.39,-.87],[-.74,.6,.44],[.97,.92,-.3],[-.28,-.76,-.01],[.44,.16,.77],[-.48,-.09,-.64],[.14,-.74,.48],[-.95,.55,.15],[.71,-.73,-.18],[-.06,.49,-.93],
[.89,.18,.62],[-.55,-.86,.06],[.32,-.45,-.51],[-.82,.33,-.68],[.58,.61,.27],[-.37,-.38,.86],[1.05,-.7,.12],[-.69,.88,-.05],[.2,.27,-.45],[-.93,-.57,.53],
[.66,-.86,.78],[-.13,.2,.39],[.49,.99,-.23],[-.61,-.53,-.35],[.83,-.15,-.74],[-1.04,.75,.66],[.11,-.55,.2],[-.42,-.87,.94],[.95,.37,-.03],[-.3,.73,-.56],
[.4,-.24,.37],[-.86,-.11,-.9],[.73,.77,.14],[-.2,-.99,.67],[1.01,-.08,-.61],[-.52,.38,.04],[.26,-.83,-.3],[-.77,-.74,.45],[.62,.51,-.82],[-.35,-.28,.13],
[.09,.96,.52],[-.64,-.44,-.2],[.87,-.64,-.94],[-.46,.79,.63],[.35,-.11,.08],[-.97,-.84,-.58],[.54,.3,.73],[-.08,-.61,-.16],[.78,.66,.47],[-.88,.4,-.43],
[.51,-.93,-.08],[-.25,.14,.92],[.98,.49,-.69],[-.71,-.91,.28],[.18,.64,.35],[-.44,-.31,-.8],[.69,-.36,.51],[-1.09,.3,.1],[.3,-.7,-.7],[-.58,.98,.81],
[.85,.03,.06],[-.15,-.49,-.36],[.6,.83,.9],[-.8,-.2,.44],[.06,-.79,-.52],[-.49,.63,-.01],[1.09,-.22,.58],[-.66,-.62,-.76],[.43,.17,.21],[-.34,.91,-.63],
[.74,-.5,-.27],[-.96,.51,.69],[.23,-.03,-.04],[-.41,-.95,.5],[.9,.78,-.44],[-.62,.16,-.93],[.33,-.96,.85],[-.05,.36,.33],[.64,-.28,.08],[-.83,-.54,-.34],
[.19,.8,-.79],[-.72,.73,.2],[.96,-.9,.43],[-.32,-.15,-.6],[.5,.45,.6],[-.88,-1.03,.03],[.79,-.05,-.37],[-.19,.67,.75],[.37,-.63,-.92],[-1,.08,.31],
[.58,.22,.54],[-.5,-.68,.66],[.14,-.38,-.15],[-.91,.9,-.52],[.67,-.8,.26],[-.23,.11,.49],[1.03,.7,-.91],[-.6,-.16,.18],[.27,1.05,.1],[-.75,-.98,-.65],
[.82,-.16,.97],[-.37,.43,-.29],[.42,-.59,.58],[-.99,-.32,-.05],[.71,.38,-.16],[-.11,-.88,.4],[.5,.86,-.5],[-.84,.57,.83],[.92,-.78,-.57],[-.45,-.55,.27],
[.02,.15,-.83],[-.68,.26,.57],[.77,-1.01,.05],[-.27,-.3,-.43],[.99,.29,.7],[-.57,.94,.09],[.35,-.27,-.68],[-.93,-.62,.39],[.6,.68,.14],[-.13,-.78,-.24],
[.45,.5,.44],[-.8,-.98,-.72],[.88,-.41,.17],[-.4,.85,.29],[.1,-.61,.63],[-.71,-.24,-.52],[.66,.94,-.04],[-.2,-.38,.8],[1.08,-.87,-.35],[-.51,.27,-.78],
[.31,-.84,.48],[-.96,.66,.06],[.57,.07,-.55],[-.06,.92,.64],[.8,-.59,-.2],[-.62,-.5,.73],[.21,.37,-.97],[-.78,.04,-.21],[.94,.6,.38],[-.35,-.99,.15],
[.68,-.69,-.63],[-.18,.5,.48],[.4,.74,.2],[-.87,-.58,-.41],[.13,-.18,.88],[-.53,.76,-.7],[.86,.28,-.12],[-.3,-.8,.36],[.54,-.99,.62],[-1.03,-.16,-.6],
[.97,.84,.23],[-.44,-.25,-.15],[.23,-.68,.32],[-.66,.45,.95],[.7,-.23,-.9],[-.1,-.94,-.5],[.36,.54,.67],[-.92,-.78,.13],[.63,.12,-.28],[-.24,.68,.04],
[.5,-.47,.82],[-.79,.13,-.56],[1.02,-.52,.33],[-.39,-.71,-.86],[.07,.86,.17],[-.58,-.4,.6],[.84,.48,-.64],[-.15,.26,-.19],[.46,-.85,.1],[-.97,.93,.41],
[.29,.1,-.45],[-.63,-.97,.22],[.91,.97,.72],[-.26,-.63,-.37],[.55,-.33,.55],[-.86,.48,-.08],[.12,-.53,-.72],[-.5,.55,.86],[.75,-.95,-.11],[-.04,.07,.32],
[.78,.4,-.22],[-.95,-.41,.48],[.34,.97,.47],[-.54,-.14,-.74],[.99,-.67,-.02],[-.29,.89,.57],[.6,-.14,.18],[-.77,-.85,-.3],[.17,.61,-.58],[-.43,-.42,.7],
[.88,-.3,.65],[-.11,-.99,-.46],[.48,.3,.02],[-.89,.79,-.64],[.27,-.43,.39],[-.6,-.66,.11],[1.06,.55,-.15],[-.36,.1,.84],[.71,-.62,-.79],[-.74,.37,.25],
[.05,-.8,.6],[-.48,.95,-.38],[.65,.57,-.61],[-.98,-.27,.15],[.4,-.08,.76],[-.69,-.72,-.25],[.93,.19,.51],[-.21,.78,-.48],[.57,-.8,.34],[-.83,-.03,-.83]
];
const ringRows=[
[1.24,.15,-.62],[-1.33,.47,.9],[.45,1.28,-1.3],[-.62,-1.22,.18],[1.51,-.38,.44],[-1.18,-.84,-.25],[.09,-1.35,1.15],[-.93,1.19,.57],[1.38,.86,-.05],[-1.61,-.07,.35],
[.77,-1.24,-.84],[-1.27,1.31,-.49],[1.17,-.58,1.27],[-.29,1.43,.12],[1.69,.29,-.71],[-1.44,-.6,1.02],[.54,1.18,.66],[-1.12,-1.33,-.95],[1.29,-1.21,.24],[-.81,1.27,-1.18],
[1.41,.61,.83],[-1.55,.25,-.16],[.18,-1.49,-.4],[-.47,1.25,1.34],[1.13,1.14,-.9],[-1.36,-1.08,.61],[.93,-1.38,.02],[-1.71,.46,-.82],[1.58,-.71,.55],[-.12,1.58,-.27],
[1.2,-.18,.97],[-1.22,.98,.31],[.61,1.51,-.58],[-.75,-1.48,-1.14],[1.45,1.29,.16],[-1.49,-.36,-.61],[.36,-1.28,.89],[-1.06,1.11,1.21],[1.73,-.44,-.33],[-.58,-1.66,.48],
[1.32,.43,-1.22],[-1.4,.69,.75],[.86,-1.16,-.11],[-.21,1.21,-.77],[1.12,-.93,1.06],[-1.67,-.24,.04],[.49,1.37,.41],[-1.24,-1.16,-.36],[1.61,.98,-.6],[-.97,1.49,.86],
[1.53,-.12,.22],[-1.15,-.48,1.3],[.24,1.66,-.95],[-.88,-1.25,.7],[1.27,-1.45,-.54],[-1.52,.91,-.02],[.72,1.23,1.02],[-1.34,-.92,-.79],[1.15,.72,.37],[-.39,-1.37,-1.21],
[1.66,.55,-.18],[-1.28,.12,.55],[.58,-1.58,.34],[-.64,1.36,-.63],[1.36,-.27,-1.05],[-1.59,-1.14,.87],[.14,1.27,.2],[-1.1,.65,-1.33],[1.48,-1.03,.68],[-.83,-1.5,.09],
[1.18,1.35,.51],[-1.43,-.81,-.44],[.97,-1.29,1.23],[-.34,1.52,.73],[1.78,.12,.01],[-1.2,1.45,-.38],[.31,-1.21,-.79],[-1.63,.38,.97],[1.31,-.62,-.23],[-.51,-1.31,.42],
[1.44,.21,1.11],[-1.31,-.31,-.91],[.81,1.45,.09],[-.99,-1.42,.58],[1.23,-1.02,-.67],[-1.74,.13,.28],[.41,-1.55,-1.12],[-.7,1.62,.44],[1.55,.84,.82],[-1.25,-1.27,-.07],
[1.11,-.52,-.46],[-1.47,.8,1.09],[.65,1.19,-.34],[-.16,-1.62,.29],[1.6,-1.16,.6],[-1.06,-.74,-1.27],[.27,1.42,.93],[-1.38,1.21,-.71],[1.35,.39,.13],[-.9,-1.21,.78],
[1.71,-.62,-.87],[-1.19,.23,.17],[.52,-1.31,.5],[-.56,1.18,-1.02],[1.26,1.05,1.18],[-1.57,-.51,-.3],[.88,-1.53,-.15],[-1.3,.53,.46],[1.49,-.34,-.55],[-.27,1.47,.24],
[1.19,.84,-.14],[-1.64,-.88,.72],[.03,-1.44,-.6],[-1.02,1.33,.35],[1.42,-.81,.99],[-1.23,.01,-1.12],[.69,1.57,.27],[-.79,-1.29,-.42],[1.64,.41,-.97],[-1.45,1,.12],
[1.28,-1.33,.38],[-1.35,-.17,.85],[.44,1.2,-.9],[-.42,-1.48,1.08],[1.57,-.2,-.24],[-1.12,.93,-.55],[.95,-1.2,.73],[-1.55,-.67,-.19],[1.14,1.25,.47],[-.66,1.31,-.86],
[1.39,.08,.31],[-1.21,-1.03,-.65],[.6,-1.43,1],[-.95,1.55,.03],[1.67,.74,.57],[-1.42,.34,-1.04],[.2,1.33,.79],[-1.09,-1.52,.32],[1.21,-.7,-.83],[-.48,-1.2,-.17],
[1.46,-.94,.64],[-1.69,.71,.21],[.75,1.34,-1.14],[-.31,-1.3,-.5],[1.16,.5,.9],[-1.28,-.45,.48],[.39,-1.64,-.28],[-.84,1.41,.66],[1.52,1.15,-.41],[-1.5,-1.19,.95],
[1.25,-.43,-.72],[-1.16,1.22,.4],[.85,1.26,.15],[-.6,-1.58,-.87],[1.74,-.29,.38],[-1.33,.81,-.29],[.12,-1.27,.62],[-1.61,-.27,-.64],[1.33,.65,1.04],[-.73,1.22,-.1],
[1.59,.35,-.35],[-1.26,-.68,.27],[.5,1.45,.53],[-1.13,-1.25,-1.02],[1.2,-1.1,.12],[-1.48,.58,.79],[.99,-1.42,-.6],[-.44,1.59,-.45],[1.43,-.57,.21],[-1.72,-.55,.06],
[1.17,.99,-.91],[-1.37,.16,-.12],[.33,-1.37,.97],[-.89,1.26,.51],[1.51,-.74,-.16],[-1.18,-1.39,.37],[.63,1.62,-.26],[-1.41,1.14,.7],[1.65,-.05,-.77],[-.55,-1.44,-.33],
[1.3,.27,.68],[-1.53,-.95,-.52],[.8,-1.26,.25],[-.19,1.3,-1.1],[1.47,1.02,.09],[-1.25,.4,.93],[.47,-1.47,-.44],[-1,-1.14,.14],[1.22,-1.26,-.99],[-.78,1.46,.31],
[1.56,-.51,.47],[-1.11,.75,-.84],[.16,1.49,.38],[-.67,-1.35,.88],[1.34,.6,-.48],[-1.66,-.15,.6],[.9,1.32,-.09],[-1.46,-.79,-.22],[1.13,-.85,.76],[-.35,-1.56,-.71],
[1.62,.02,-.29],[-1.3,1.08,.16],[.71,-1.35,-.97],[-1.04,-1.18,.53],[1.27,1.18,.86],[-1.58,.55,-.46],[.37,1.39,.02],[-.5,-1.27,-.59],[1.4,-1.08,.33],[-1.19,-.35,1.17],
[1.23,.52,.12],[-1.44,-.12,-.76],[.55,-1.61,.69],[-.86,1.37,-.24],[1.7,-.82,-.05],[-1.21,-.9,.41],[.26,1.21,-.62],[-1.35,1.35,.88],[1.5,.31,-.92],[-.6,-1.41,.21],
[1.36,-.77,.56],[-1.6,.22,-.35],[.92,1.11,.71],[-.24,-1.45,-1.05],[1.19,-.36,-.2],[-1.27,-1.27,.65],[.64,1.46,-.75],[-1.5,-.42,.24],[1.57,1.06,.43],[-.96,1.22,-.58],
[1.28,.66,-.63],[-1.34,-.54,.98],[.07,-1.53,.15],[-.71,1.48,.62],[1.63,-.48,-.41],[-1.15,.46,-.97],[.83,-1.28,.42],[-1.68,.89,.09],[1.12,.18,.79],[-.45,-1.64,-.36],
[1.47,1.2,-.14],[-1.22,-.2,.33],[.42,1.24,-1],[-.93,-1.37,-.13],[1.35,-1.18,.91],[-1.43,.97,.54],[.74,-1.5,-.31],[-1.14,-.61,-.68],[1.53,.47,.18],[-.31,1.36,.97],
[1.16,-1.04,-.52],[-1.56,-1.05,.37],[.58,1.3,.35],[-.54,-1.53,.76],[1.8,.26,-.6],[-1.29,.29,-.22],[.22,-1.39,-.81],[-.82,1.59,.05],[1.32,-.13,.63],[-1.39,-1.22,-.49],
[1.42,.93,.4],[-1.17,.57,1.05],[.96,-1.45,-.06],[-.37,1.29,-.42],[1.24,-.64,-1.15],[-1.62,-.38,.15],[.31,1.55,.6],[-1.07,-1.44,-.77],[1.61,-.89,.27],[-.75,1.2,-.66],
[1.21,-.28,.11],[-1.45,.49,-.6],[.68,-1.22,.9],[-.14,1.47,.5],[1.58,.68,-.3],[-1.2,-.8,-.41],[.46,-1.37,.34],[-1.33,1.26,-.13],[1.29,.94,.71],[-.63,-1.33,-.92],
[1.73,-.18,.5],[-1.13,-.26,-.3],[.79,1.41,-.49],[-.98,-1.24,.98],[1.37,-.5,.03],[-1.54,.1,.69],[.18,-1.51,-.56],[-.6,1.33,.29],[1.18,1.31,-.78],[-1.4,-.7,.2],
[1.5,.77,.96],[-1.26,.88,-.68],[.38,-1.26,.1],[-.85,-1.59,-.38],[1.26,-.92,.47],[-1.65,.6,.36],[.87,1.21,-.2],[-1.18,-1.05,.85],[1.44,-1.25,-.37],[-.22,1.62,-.69]
];
const coreOuter=[
[1.45,.38,-.22],[-1.52,-.44,.61],[.35,1.55,-.9],[-.48,-1.6,.35],[1.62,-.27,1.3],[-1.38,.76,-.15],[.82,-1.41,.72],[-.9,1.35,-1.2],[1.3,1.01,.44],[-1.6,-.12,-1.33],
[.12,-1.58,.06],[-1.21,-1.12,1.05],[1.55,.71,-.63],[-.27,1.62,.92],[1.2,-1.16,-1.02],[-1.68,.33,.27],[.66,1.44,1.38],[-1.02,-1.38,-.74],[1.73,.06,.18],[-.6,1.5,-.47],
[.95,-1.34,1.12],[-1.44,1,.54],[1.38,-.62,-1.45],[-.15,-1.69,-.2],[.52,1.6,.1],[-1.75,-.58,.81],[1.05,1.28,-1.12],[-1.26,-.9,-.06],[1.66,-.92,.57],[-.82,1.58,1.21],
[.28,-1.46,-.97],[-1.57,.57,-.55],[1.5,1.08,.86],[-.71,-1.45,1.27],[1.27,-.85,-.32],[-1.36,1.25,.08],[.73,1.6,-.68],[-1.7,.08,.42],[1.58,-.46,-.88],[-.4,-1.54,.63],
[.9,1.42,.29],[-1.48,-1.07,-1.1],[1.8,.42,.5],[-.2,1.7,-.34],[1.16,-1.44,.97],[-1.12,.9,-1.4],[.46,-1.63,.15],[-1.62,-.72,.7],[1.41,.82,-1.17],[-.95,-1.3,-.41],
[.61,1.32,1.02],[-1.33,.45,-.81],[1.69,-.66,.36],[-.58,1.41,.66],[1.1,-1.6,-.59],[-1.55,-.3,1.16],[.21,1.48,-1.23],[-1.19,-1.52,.24],[1.35,.5,.78],[-.8,1.6,-.97],
[1.56,-1.03,-.15],[-1.42,.2,.99],[.4,-1.36,-1.3],[-1.08,1.47,-.12],[1.24,1.2,.6],[-1.78,-.35,-.43],[.7,-1.51,.88],[-.35,1.52,.39],[1.49,-.15,-.72],[-1.3,-1.25,.53],
[.08,1.64,.76],[-1.65,.64,-1.05],[1.33,-1.3,.22],[-.66,-1.66,-.62],[1.72,.78,-.31],[-1.22,1.12,1.34],[.84,-1.46,-1.08],[-1.5,-.81,.31],[1.06,1.5,.02],[-.5,-1.42,1.5],
[1.62,.2,.94],[-1.4,-.05,-.26],[.54,-1.72,.47],[-.98,1.44,.72],[1.44,-.78,-.64],[-1.58,1.02,-.37],[.3,1.38,-1.01],[-1.27,-1.35,.9],[1.78,-.25,.11],[-.75,1.3,-1.52],
[1.2,-1.3,1.41],[-1.72,.28,.04],[.99,1.28,-.8],[-.31,-1.58,-.53],[1.52,.58,.68],[-1.35,-.66,1.23],[.62,-1.28,-.24],[-.88,1.52,.48],[1.68,-.52,-1.09],[-1.48,.84,.19],
[.17,-1.76,.83],[-1.1,-1.27,-.92],[1.3,.93,.49],[-1.6,-.95,.13],[.78,1.52,-.45],[-.52,-1.48,1.06],[1.46,-1.06,.3],[-1.18,1.3,-.68],[.44,1.52,1.18],[-1.75,-.2,-.58],
[1.6,.95,-.5],[-.12,-1.5,.93],[1,-1.52,-.16],[-1.45,.62,.81],[.56,-1.45,-.73],[-1.32,-1.05,.4],[1.76,.3,1.02],[-.64,1.68,-.21],[1.36,-1.18,.61],[-1.56,.4,-1.22],
[.87,1.63,.4],[-1.3,.98,.95],[1.58,-.34,-.37],[-.42,-1.73,.2],[1.14,1.36,-1.35],[-1.63,-.48,.56],[.24,-1.4,-1.1],[-1,-1.62,.07],[1.42,.64,.97],[-.72,1.46,-.77],
[1.64,-.75,.16],[-1.46,-1.2,-.29],[.5,1.66,.69],[-1.7,.72,-.09],[1.25,-1.42,1.2],[-.87,-1.5,-1.16],[1.5,.3,-.56],[-1.24,.58,1.48],[.72,-1.66,.53],[-.45,1.58,-.03],
[1.34,1.15,-.95],[-1.52,-.78,.36],[.06,1.52,.84],[-1.16,-1.4,-.44],[1.7,-.15,.62],[-1.38,.34,-.99],[.93,-1.22,.75],[-.59,1.36,.23],[1.55,.87,-.26],[-1.8,.16,.5],
[.36,-1.62,-.34],[-1.06,1.26,.6],[1.47,-.92,-.87],[-1.6,-.27,1.12],[.81,1.38,-.11],[-.26,-1.44,.71],[1.18,-1.24,-.43],[-1.4,1.14,-.16],[1.62,.5,.33],[-.9,-1.6,1],
[1.08,1.4,.87],[-1.74,-.62,-.7],[.65,-1.5,.03],[-1.2,.8,-.58],[1.52,-.62,1.06],[-.47,1.64,.46],[1.36,.72,-1.23],[-1.45,-1,.92],[.15,-1.52,-.67],[-1.08,1.6,.29],
[1.75,-.38,-.1],[-1.3,-.22,.74],[.4,1.72,-.52],[-.8,-1.34,-.31],[1.28,1.26,.2],[-1.68,.5,-.44],[.92,-1.6,1.14],[-1.5,1.2,.38],[1.6,-1.15,-.77],[-.34,-1.64,.12],
[1.15,.56,1.2],[-1.55,.9,-.34],[.68,1.48,.57],[-1.42,-1.3,-.83],[1.44,-1.3,.45],[-.6,1.48,-1.06],[1.72,.6,-.2],[-1.12,-.82,1.31],[.3,-1.7,.28],[-1.64,-.1,-.15],
[.98,-1.45,-.6],[-1.28,1.4,.86],[1.54,.12,-1.07],[-.38,-1.58,.52],[1.22,-.7,.9],[-1.6,.48,.09],[.57,1.56,-.39],[-1,-1.44,.66],[1.4,1,.05],[-1.36,-.56,-.64],
[1.66,-.8,.42],[-.72,1.62,-.14],[1.04,-1.35,-.95],[-1.5,-.94,.17],[.47,1.4,.98],[-1.76,.22,-.49],[1.3,-.5,.71],[-.2,-1.62,-.85],[1.58,1.1,.26],[-1.18,-1.2,.45],
[.78,-1.72,-.08],[-1.4,1.04,-.88],[1.7,.38,.67],[-.54,-1.4,.3],[1.1,1.55,-.62],[-1.62,-.86,.22],[.18,1.6,.05],[-1.3,.62,.64],[1.5,-1.2,-.41],[-.86,-1.7,.77],
[1.36,.3,-.71],[-1.55,.14,.93],[.42,-1.5,.61],[-1.05,1.38,-.52],[1.62,-.6,-.28],[-1.34,-1.14,1.09],[.88,1.5,.34],[-1.7,-.46,-.93],[1.2,-1.5,.13],[-.62,1.4,.58],
[1.54,.74,-.14],[-1.2,-.45,-1.14],[.26,-1.66,.4],[-1.46,1.18,.27],[1.76,-.12,.85],[-.94,-1.36,-.26],[1,1.2,-1],[-1.66,.78,.47],[.62,-1.4,-.5],[-1.35,-.75,.15],
[1.28,-1.05,.55],[-1.48,.52,-.6],[.75,1.35,.11],[-1.6,-1.02,-.07],[1.45,.44,.72],[-.3,1.55,-.74],[1.64,-1,-.63],[-1.1,.2,.39],[.5,-1.55,.96],[-1.25,1.5,-.3]
];

const rows=[].concat(extremeRows,leftEdgeRows,rightEdgeRows,coreInner,coreMid,coreFill,ringRows,coreOuter);

// ---- drawing ----
const svg=d3.select("#chart");
const card={top:41,w:468,h:499};
const m={l:28,r:9,t:9,b:30};
const pw=card.w-m.l-m.r, ph=card.h-m.t-m.b;
const FONT='"Liberation Sans",Arial,Helvetica,sans-serif';

const panels=[
  {left:20,title:titles[0],idx:1,domain:yDomain,ticks:yTicks,fill:"#1f77b4",r:2.4},
  {left:512,title:titles[1],idx:2,domain:zDomain,ticks:zTicks,fill:"#b2b2b2",r:1.6}
];

panels.forEach(p=>{
  svg.append("text").attr("x",p.left).attr("y",32)
    .attr("font-size",13).attr("fill","#222").text(p.title);
  const g=svg.append("g").attr("transform",`translate(${p.left},${card.top})`);
  g.append("rect").attr("width",card.w).attr("height",card.h).attr("fill","#fff");
  const plot=g.append("g").attr("transform",`translate(${m.l},${m.t})`);
  const x=d3.scaleLinear().domain(xDomain).range([0,pw]);
  const y=d3.scaleLinear().domain(p.domain).range([ph,0]);

  const minorX=d3.ticks(xDomain[0],xDomain[1],40).filter(v=>Math.abs(v-Math.round(v))>1e-6);
  const minorY=d3.ticks(p.domain[0],p.domain[1],40).filter(v=>Math.abs(v-Math.round(v))>1e-6);
  const grid=plot.append("g");
  grid.selectAll(".mx").data(minorX).join("line")
    .attr("x1",d=>x(d)).attr("x2",d=>x(d)).attr("y1",0).attr("y2",ph)
    .attr("stroke","#ececec").attr("stroke-width",1).attr("shape-rendering","crispEdges");
  grid.selectAll(".my").data(minorY).join("line")
    .attr("y1",d=>y(d)).attr("y2",d=>y(d)).attr("x1",0).attr("x2",pw)
    .attr("stroke","#ececec").attr("stroke-width",1).attr("shape-rendering","crispEdges");
  grid.selectAll(".Mx").data(xTicks).join("line")
    .attr("x1",d=>x(d)).attr("x2",d=>x(d)).attr("y1",0).attr("y2",ph)
    .attr("stroke","#c8c8c8").attr("stroke-width",1).attr("shape-rendering","crispEdges");
  grid.selectAll(".My").data(p.ticks).join("line")
    .attr("y1",d=>y(d)).attr("y2",d=>y(d)).attr("x1",0).attr("x2",pw)
    .attr("stroke","#c8c8c8").attr("stroke-width",1).attr("shape-rendering","crispEdges");

  plot.append("g").selectAll("circle").data(rows).join("circle")
    .attr("cx",d=>x(d[0])).attr("cy",d=>y(d[p.idx])).attr("r",p.r)
    .attr("fill",p.fill);

  const ax=plot.append("g").attr("transform",`translate(0,${ph})`)
    .call(d3.axisBottom(x).tickValues(xTicks).tickSize(0).tickSizeOuter(0).tickPadding(6).tickFormat(d=>String(d)));
  const ay=plot.append("g")
    .call(d3.axisLeft(y).tickValues(p.ticks).tickSize(0).tickSizeOuter(0).tickPadding(7).tickFormat(d=>String(d)));
  [ax,ay].forEach(a=>{
    a.attr("font-family",FONT).attr("font-size",12);
    a.select(".domain").attr("stroke","#222").attr("stroke-width",1.2);
    a.selectAll("text").attr("fill","#222");
  });
});
</script>
</body></html>
